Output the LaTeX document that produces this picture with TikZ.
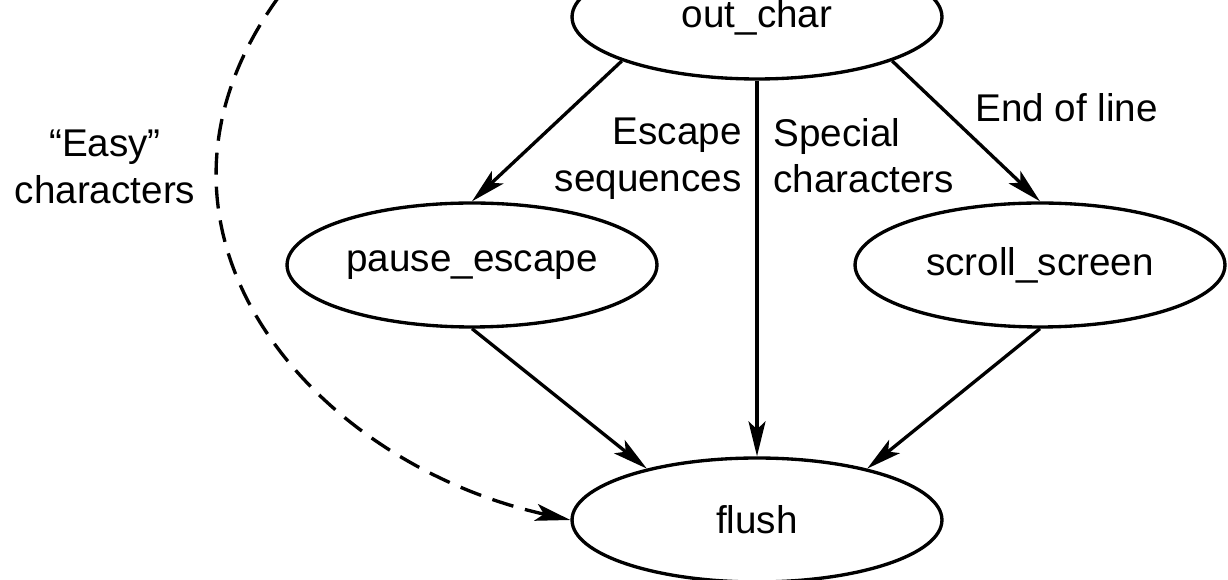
\documentclass[tikz,border=0pt]{standalone}
\usepackage{fontspec}
\setmainfont{Liberation Sans}
\usetikzlibrary{arrows.meta,positioning,shapes.geometric}

\begin{document}
\begin{tikzpicture}[x=0.02cm,y=-0.02cm,
  proc/.style={draw,ellipse,line width=1.9pt,minimum width=7.4cm,
    minimum height=2.48cm,inner sep=0pt,font=\fontsize{22}{26.5}\selectfont},
  lbl/.style={inner sep=0pt,font=\fontsize{22}{26.5}\selectfont},
  arr/.style={-{Stealth[length=7mm,width=3.4mm,inset=1.6mm]},line width=1.9pt},
  easyarr/.style={arr,dash pattern=on 4.4mm off 2.4mm}
]
\useasboundingbox (0,0) rectangle (1228,580);
\clip (0,0) rectangle (1228,580);
\node[proc] (outchar) at (757,17) {out\_char};
\node[proc] (pause) at (472,265) {pause\_escape};
\node[proc] (scroll) at (1040,265) {scroll\_screen};
\node[proc] (flush) at (757,520) {flush};
\coordinate (easystart) at (300,-30);
\draw[arr] (outchar.198) -- (pause.north);
\draw[arr] (outchar.south) -- (flush.north);
\draw[arr] (outchar.342) -- (scroll.north);
\draw[arr] (pause.south) -- (flush.155);
\draw[arr] (scroll.south) -- (flush.25);
\draw[easyarr] (easystart) .. controls (95,210) and (300,460) .. (flush.west);
\node[lbl,align=right,anchor=north east] (esclbl) at (742,118) {Escape\\sequences};
\node[lbl,align=left,anchor=north west] (speclbl) at (773,118) {Special\\characters};
\node[lbl,anchor=north west] (eollbl) at (975,93) {End of line};
\node[lbl,align=center,anchor=north] (easylbl) at (105,130) {``Easy''\\characters};
\end{tikzpicture}
\end{document}
